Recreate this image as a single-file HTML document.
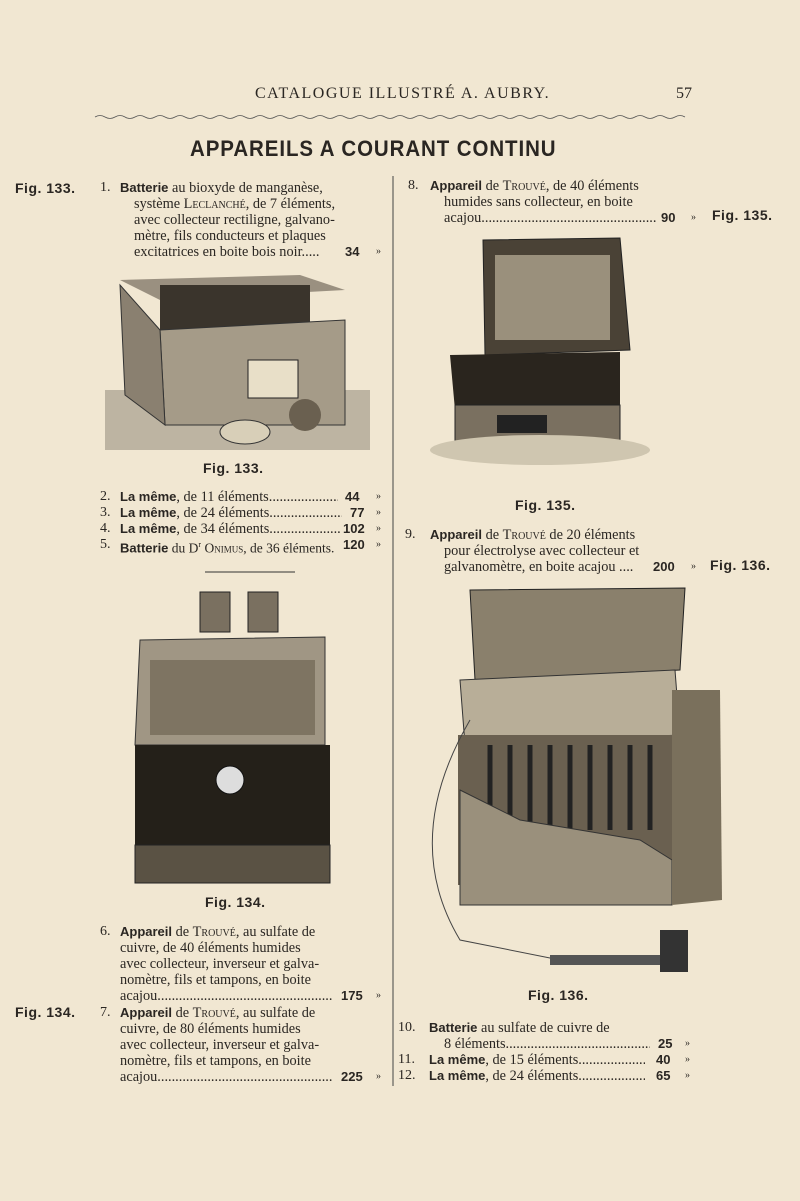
<!DOCTYPE html>
<html><head><meta charset="utf-8">
<style>
html,body{margin:0;padding:0}
body{width:800px;height:1201px;background:#f1e7d2;position:relative;overflow:hidden;font-family:"Liberation Serif",serif;color:#2a2622}
.t{position:absolute;font-size:14.3px;white-space:nowrap;line-height:16px}
.l{overflow:hidden}
.b{font-weight:bold;font-family:"Liberation Sans",sans-serif;font-size:13px}
.sc{font-variant:small-caps}
.fig{position:absolute;font-family:"Liberation Sans",sans-serif;font-weight:bold;font-size:14px;letter-spacing:0.5px}
.num{position:absolute;font-size:14px;line-height:16px}
.pr{position:absolute;font-family:"Liberation Sans",sans-serif;font-weight:bold;font-size:13px;line-height:16px;text-align:right}
.q{position:absolute;font-size:10px;line-height:16px}
</style></head><body>
<div class="t" style="left:255px;top:86px;font-size:16px;letter-spacing:1.5px">CATALOGUE ILLUSTRÉ A. AUBRY.</div>
<div class="t" style="left:676px;top:86px;font-size:16px">57</div>
<svg style="position:absolute;left:0;top:0" width="800" height="1201">
<path d="M95 117 Q100 114 105 117 T115 117 T125 117 T135 117 T145 117 T155 117 T165 117 T175 117 T185 117 T195 117 T205 117 T215 117 T225 117 T235 117 T245 117 T255 117 T265 117 T275 117 T285 117 T295 117 T305 117 T315 117 T325 117 T335 117 T345 117 T355 117 T365 117 T375 117 T385 117 T395 117 T405 117 T415 117 T425 117 T435 117 T445 117 T455 117 T465 117 T475 117 T485 117 T495 117 T505 117 T515 117 T525 117 T535 117 T545 117 T555 117 T565 117 T575 117 T585 117 T595 117 T605 117 T615 117 T625 117 T635 117 T645 117 T655 117 T665 117 T675 117 T685 117" fill="none" stroke="#555" stroke-width="0.8"/>
<line x1="393" y1="176" x2="393" y2="1086" stroke="#444" stroke-width="1"/>
<!-- Fig 133 -->
<rect x="105" y="390" width="265" height="60" fill="#bdb4a2"/>
<polygon points="120,280 300,275 345,290 160,300" fill="#9a9080"/>
<rect x="160" y="285" width="150" height="50" fill="#3a342c"/>
<polygon points="160,330 345,320 345,425 165,425" fill="#a59b88" stroke="#333"/>
<polygon points="120,285 160,330 165,425 125,395" fill="#8a8070" stroke="#333"/>
<rect x="248" y="360" width="50" height="38" fill="#e8dfc8" stroke="#222"/>
<ellipse cx="245" cy="432" rx="25" ry="12" fill="#d8cfb8" stroke="#333"/>
<circle cx="305" cy="415" r="16" fill="#6a6050"/>
<!-- Fig 134 cells -->
<rect x="200" y="592" width="30" height="40" fill="#7a7060" stroke="#222"/>
<rect x="248" y="592" width="30" height="40" fill="#7a7060" stroke="#222"/>
<line x1="205" y1="572" x2="295" y2="572" stroke="#333"/>
<!-- Fig 134 box -->
<polygon points="140,640 325,637 325,745 135,745" fill="#a09684" stroke="#333"/>
<rect x="150" y="660" width="165" height="75" fill="#7e7462"/>
<rect x="135" y="745" width="195" height="100" fill="#242019"/>
<rect x="135" y="845" width="195" height="38" fill="#5a5244" stroke="#222"/>
<circle cx="230" cy="780" r="14" fill="#ddd" stroke="#111"/>
<!-- Fig 135 -->
<polygon points="483,240 620,238 630,350 485,355" fill="#4a4236" stroke="#222"/>
<rect x="495" y="255" width="115" height="85" fill="#9a907c"/>
<polygon points="450,355 620,352 620,410 455,410" fill="#2a251e"/>
<rect x="455" y="405" width="165" height="40" fill="#7a7060" stroke="#222"/>
<rect x="497" y="415" width="50" height="18" fill="#222"/>
<ellipse cx="540" cy="450" rx="110" ry="15" fill="#cfc6b0"/>
<!-- Fig 136 -->
<polygon points="470,590 685,588 680,670 475,680" fill="#8a806c" stroke="#222"/>
<polygon points="460,680 675,670 680,735 465,745" fill="#b8ae98" stroke="#333"/>
<rect x="458" y="735" width="215" height="150" fill="#6a6050"/>
<g stroke="#222" stroke-width="5">
<line x1="490" y1="745" x2="490" y2="830"/><line x1="510" y1="745" x2="510" y2="830"/><line x1="530" y1="745" x2="530" y2="830"/><line x1="550" y1="745" x2="550" y2="830"/><line x1="570" y1="745" x2="570" y2="830"/><line x1="590" y1="745" x2="590" y2="830"/><line x1="610" y1="745" x2="610" y2="830"/><line x1="630" y1="745" x2="630" y2="830"/><line x1="650" y1="745" x2="650" y2="830"/>
</g>
<polygon points="460,790 520,820 640,840 672,860 672,905 460,905" fill="#9a907c" stroke="#333"/>
<polygon points="672,690 720,690 722,900 672,905" fill="#7a705c"/>
<path d="M470 720 Q400 840 460 940 L560 960" fill="none" stroke="#444"/>
<rect x="550" y="955" width="110" height="10" fill="#555"/>
<rect x="660" y="930" width="28" height="42" fill="#333"/>
</svg>
<div class="t" style="left:190px;top:141px;font-family:'Liberation Sans',sans-serif;font-weight:bold;font-size:22px;letter-spacing:1px;transform:scaleX(0.93);transform-origin:left">APPAREILS A COURANT CONTINU</div>

<div class="fig" style="left:15px;top:180px">Fig. 133.</div>
<div class="fig" style="left:712px;top:207px">Fig. 135.</div>
<div class="fig" style="left:710px;top:557px">Fig. 136.</div>
<div class="fig" style="left:15px;top:1004px">Fig. 134.</div>
<div class="fig" style="left:203px;top:460px">Fig. 133.</div>
<div class="fig" style="left:205px;top:894px">Fig. 134.</div>
<div class="fig" style="left:515px;top:497px">Fig. 135.</div>
<div class="fig" style="left:528px;top:987px">Fig. 136.</div>

<!-- left col -->
<div class="num" style="left:100px;top:180px">1.</div>
<div class="t" style="left:120px;top:180px"><span class="b">Batterie</span> au bioxyde de manganèse,</div>
<div class="t" style="left:134px;top:196px">système <span class="sc">Leclanché</span>, de 7 éléments,</div>
<div class="t" style="left:134px;top:212px">avec collecteur rectiligne, galvano-</div>
<div class="t" style="left:134px;top:228px">mètre, fils conducteurs et plaques</div>
<div class="t" style="left:134px;top:244px">excitatrices en boite bois noir.....</div>
<div class="pr" style="left:345px;top:244px">34</div><div class="q" style="left:376px;top:244px">»</div>

<div class="num" style="left:100px;top:489px">2.</div><div class="t l" style="left:120px;top:489px;width:218px"><span class="b">La même</span>, de 11 éléments.......................</div><div class="pr" style="left:345px;top:489px">44</div><div class="q" style="left:376px;top:489px">»</div>
<div class="num" style="left:100px;top:505px">3.</div><div class="t l" style="left:120px;top:505px;width:222px"><span class="b">La même</span>, de 24 éléments.......................</div><div class="pr" style="left:350px;top:505px">77</div><div class="q" style="left:376px;top:505px">»</div>
<div class="num" style="left:100px;top:521px">4.</div><div class="t l" style="left:120px;top:521px;width:220px"><span class="b">La même</span>, de 34 éléments.......................</div><div class="pr" style="left:343px;top:521px">102</div><div class="q" style="left:376px;top:521px">»</div>
<div class="num" style="left:100px;top:537px">5.</div><div class="t l" style="left:120px;top:537px;width:222px;font-size:13.5px"><span class="b">Batterie</span> du D<sup style="font-size:8px">r</sup> <span class="sc">Onimus</span>, de 36 éléments.</div><div class="pr" style="left:343px;top:537px">120</div><div class="q" style="left:376px;top:537px">»</div>

<div class="num" style="left:100px;top:924px">6.</div>
<div class="t" style="left:120px;top:924px"><span class="b">Appareil</span> de <span class="sc">Trouvé</span>, au sulfate de</div>
<div class="t" style="left:120px;top:940px">cuivre, de 40 éléments humides</div>
<div class="t" style="left:120px;top:956px">avec collecteur, inverseur et galva-</div>
<div class="t" style="left:120px;top:972px">nomètre, fils et tampons, en boite</div>
<div class="t l" style="left:120px;top:988px;width:216px">acajou.................................................</div><div class="pr" style="left:341px;top:988px">175</div><div class="q" style="left:376px;top:988px">»</div>
<div class="num" style="left:100px;top:1005px">7.</div>
<div class="t" style="left:120px;top:1005px"><span class="b">Appareil</span> de <span class="sc">Trouvé</span>, au sulfate de</div>
<div class="t" style="left:120px;top:1021px">cuivre, de 80 éléments humides</div>
<div class="t" style="left:120px;top:1037px">avec collecteur, inverseur et galva-</div>
<div class="t" style="left:120px;top:1053px">nomètre, fils et tampons, en boite</div>
<div class="t l" style="left:120px;top:1069px;width:216px">acajou.................................................</div><div class="pr" style="left:341px;top:1069px">225</div><div class="q" style="left:376px;top:1069px">»</div>

<!-- right col -->
<div class="num" style="left:408px;top:178px">8.</div>
<div class="t" style="left:430px;top:178px"><span class="b">Appareil</span> de <span class="sc">Trouvé</span>, de 40 éléments</div>
<div class="t" style="left:444px;top:194px">humides sans collecteur, en boite</div>
<div class="t l" style="left:444px;top:210px;width:212px">acajou.................................................</div><div class="pr" style="left:661px;top:210px">90</div><div class="q" style="left:691px;top:210px">»</div>

<div class="num" style="left:405px;top:527px">9.</div>
<div class="t" style="left:430px;top:527px"><span class="b">Appareil</span> de <span class="sc">Trouvé</span> de 20 éléments</div>
<div class="t" style="left:444px;top:543px">pour électrolyse avec collecteur et</div>
<div class="t" style="left:444px;top:559px">galvanomètre, en boite acajou ....</div><div class="pr" style="left:653px;top:559px">200</div><div class="q" style="left:691px;top:559px">»</div>

<div class="num" style="left:398px;top:1020px">10.</div>
<div class="t" style="left:429px;top:1020px"><span class="b">Batterie</span> au sulfate de cuivre de</div>
<div class="t l" style="left:444px;top:1036px;width:206px">8 éléments.............................................</div><div class="pr" style="left:658px;top:1036px">25</div><div class="q" style="left:685px;top:1036px">»</div>
<div class="num" style="left:398px;top:1052px">11.</div><div class="t l" style="left:429px;top:1052px;width:216px"><span class="b">La même</span>, de 15 éléments.......................</div><div class="pr" style="left:656px;top:1052px">40</div><div class="q" style="left:685px;top:1052px">»</div>
<div class="num" style="left:398px;top:1068px">12.</div><div class="t l" style="left:429px;top:1068px;width:216px"><span class="b">La même</span>, de 24 éléments.......................</div><div class="pr" style="left:656px;top:1068px">65</div><div class="q" style="left:685px;top:1068px">»</div>
</body></html>
